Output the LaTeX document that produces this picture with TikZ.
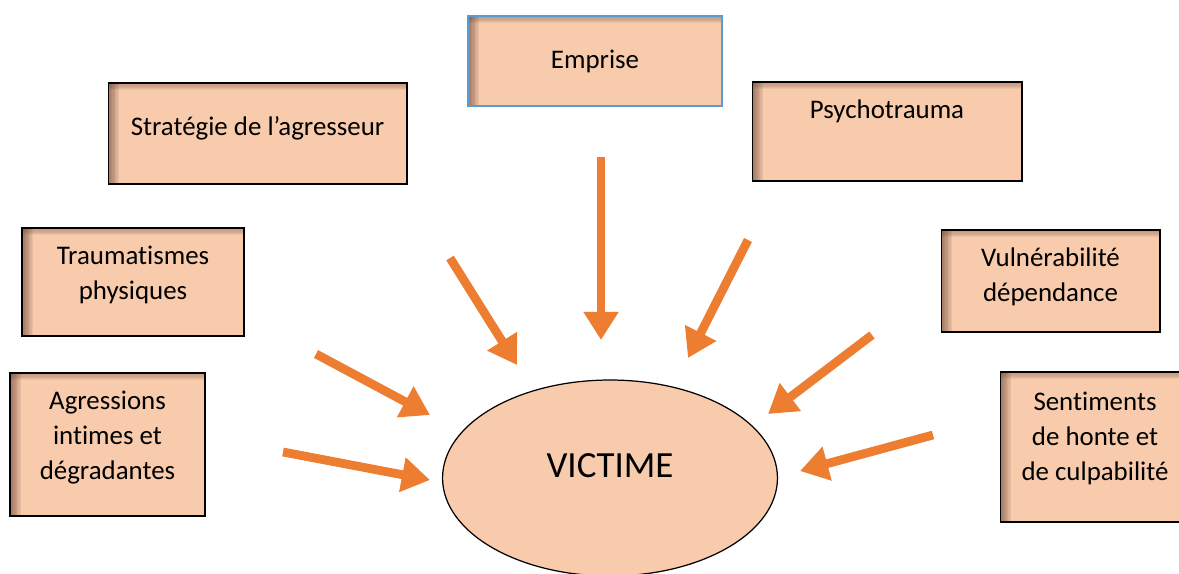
\documentclass[tikz,border=0pt]{standalone}
\usepackage{fontspec}
\setmainfont{Carlito}[Ligatures=NoCommon]
\usetikzlibrary{shapes.geometric, arrows.meta}
\definecolor{peach}{HTML}{F8CBAD}
\definecolor{shadowbrown}{HTML}{5A3A2A}
\definecolor{arroworange}{HTML}{ED7D31}
\definecolor{wordblue}{HTML}{5B9BD5}
\tikzstyle{cause} = [rectangle, draw=black, line width=0.6pt, fill=peach, align=flush center, inner sep=0pt, font=\fontsize{15.3}{20}\selectfont,
  path picture={
    \foreach \s in {1,...,8}
      \fill[shadowbrown, fill opacity=0.09] (path picture bounding box.south west) rectangle ([xshift=\s*0.8pt]path picture bounding box.north west);
    \foreach \s in {1,...,6}
      \fill[shadowbrown, fill opacity=0.07] (path picture bounding box.north west) rectangle ([yshift=-\s*0.7pt]path picture bounding box.north east);
  }]
\tikzstyle{victim} = [ellipse, draw=black, line width=0.7pt, fill=peach, font=\fontsize{21}{25}\selectfont, text height=14pt, text depth=15pt]
\tikzstyle{arrow} = [draw=arroworange, line width=5pt, -{Triangle[length=16pt,width=19pt]}]

\begin{document}
\begin{tikzpicture}[x=0.02cm, y=-0.02cm]
\useasboundingbox (0,0) rectangle (1179,574);

\node (emprise) [cause, draw=wordblue, line width=1.1pt, minimum width=5.08cm, minimum height=1.8cm, text height=11pt, text depth=2.6pt] at (595,61) {Emprise};
\node (strategie) [cause, minimum width=5.98cm, minimum height=2.02cm, text height=11pt, text depth=8.8pt] at (257.5,133.5) {Stratégie de l’agresseur};
\node (psycho) [cause, minimum width=5.4cm, minimum height=1.98cm, text height=11pt, text depth=25.8pt] at (887,131.5) {Psychotrauma};

\node (trauma) [cause, minimum width=4.44cm, minimum height=2.16cm, text width=4cm, text height=11pt, text depth=30.8pt] at (133,282) {Traumatismes\\physiques};
\node (vulner) [cause, minimum width=4.38cm, minimum height=2.04cm, text width=4cm, text height=11pt, text depth=27.4pt] at (1050.5,281) {Vulnérabilité\\dépendance};

\node (agress) [cause, minimum width=3.9cm, minimum height=2.86cm, text width=3.6cm, text height=11pt, text depth=50.7pt] at (107.5,444.5) {Agressions\\intimes et\\dégradantes};
\node (sentim) [cause, minimum width=3.8cm, minimum height=3cm, text width=3.6cm, text height=11pt, text depth=52.4pt] at (1095,447) {Sentiments\\de honte et\\de culpabilité};

\node (victime) [victim, minimum width=6.7cm, minimum height=3.92cm] at (610,478) {VICTIME};

% arrows pointing to the victim
\coordinate (top1) at (601,157);   \coordinate (tip1) at (601,340);
\coordinate (top2) at (450,258);   \coordinate (tip2) at (517,365);
\coordinate (top3) at (748,240);   \coordinate (tip3) at (688,358);
\coordinate (top4) at (316,354);   \coordinate (tip4) at (430,415);
\coordinate (top5) at (283,452);   \coordinate (tip5) at (430,480);
\coordinate (top6) at (872,335);   \coordinate (tip6) at (768,414);
\coordinate (top7) at (933,435);   \coordinate (tip7) at (800,471);

\draw [arrow] (top1) -- (tip1);
\draw [arrow] (top2) -- (tip2);
\draw [arrow] (top3) -- (tip3);
\draw [arrow] (top4) -- (tip4);
\draw [arrow] (top5) -- (tip5);
\draw [arrow] (top6) -- (tip6);
\draw [arrow] (top7) -- (tip7);

\end{tikzpicture}
\end{document}
